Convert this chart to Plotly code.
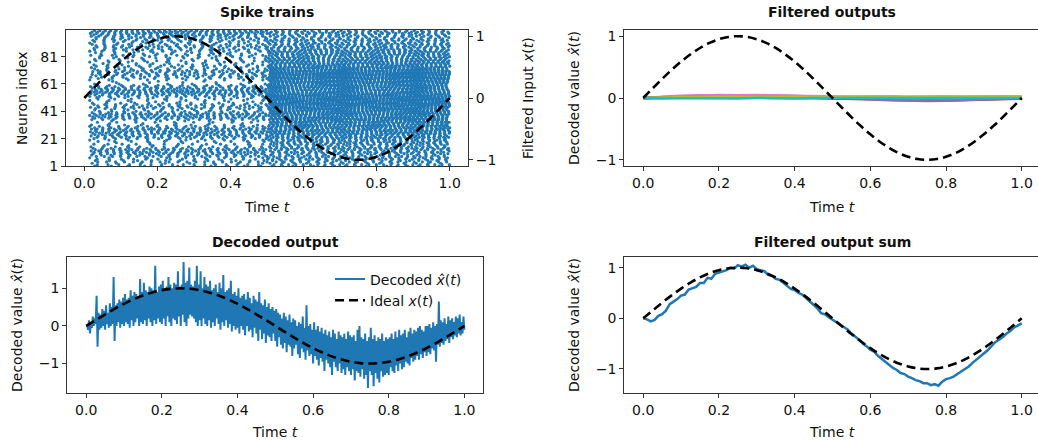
import plotly.graph_objects as go

W, H = 1038, 440
BLUE = "#1f77b4"
TAB10 = ["#1f77b4", "#ff7f0e", "#2ca02c", "#d62728", "#9467bd",
         "#8c564b", "#e377c2", "#7f7f7f", "#bcbd22", "#17becf"]

# ---------------- data ----------------
# ideal input x(t), read at 0.025 s steps
ideal_t = [i * 0.025 for i in range(41)]
ideal_x = [0.0, 0.156, 0.309, 0.454, 0.588, 0.707, 0.809, 0.891, 0.951, 0.988,
           1.0, 0.988, 0.951, 0.891, 0.809, 0.707, 0.588, 0.454, 0.309, 0.156,
           0.0, -0.156, -0.309, -0.454, -0.588, -0.707, -0.809, -0.891, -0.951, -0.988,
           -1.0, -0.988, -0.951, -0.891, -0.809, -0.707, -0.588, -0.454, -0.309, -0.156,
           0.0]

# spike raster: per-neuron firing rate (Hz) in first / second half, and phase digit
rate_first = [22, 34, 15, 41, 26, 30, 19, 45, 38, 52,
              56, 49, 60, 41, 30, 15, 26, 11, 22, 19,
              34, 45, 52, 49, 56, 60, 52, 64, 45, 38,
              22, 11, 19, 15, 34, 52, 60, 56, 64, 45,
              30, 22, 38, 45, 41, 34, 26, 15, 19, 22,
              26, 38, 49, 60, 64, 68, 60, 56, 45, 30,
              15, 11, 8, 19, 26, 34, 41, 45, 38, 49,
              41, 30, 22, 34, 26, 22, 19, 30, 15, 26,
              22, 34, 26, 19, 30, 38, 34, 45, 41, 30,
              26, 38, 34, 45, 41, 49, 52, 60, 64, 68]
rate_second = [35, 50, 30, 45, 40, 55, 45, 60, 40, 50,
               60, 45, 55, 70, 50, 45, 60, 55, 65, 50,
               65, 75, 60, 70, 80, 75, 85, 70, 80, 90,
               85, 75, 90, 80, 95, 90, 85, 80, 95, 90,
               85, 95, 100, 90, 105, 100, 110, 95, 105, 110,
               100, 95, 105, 90, 85, 80, 90, 85, 95, 90,
               85, 100, 95, 90, 105, 100, 95, 110, 105, 100,
               90, 85, 95, 80, 75, 85, 80, 70, 75, 65,
               70, 60, 75, 65, 70, 60, 55, 65, 50, 60,
               55, 45, 60, 50, 40, 50, 45, 55, 60, 50]
phase_digit = [3, 7, 1, 9, 4, 6, 0, 8, 2, 5, 7, 2, 9, 4, 1, 6, 3, 8, 5, 0,
               4, 9, 2, 7, 5, 1, 8, 3, 6, 0, 1, 6, 4, 9, 2, 7, 5, 0, 8, 3,
               8, 3, 6, 1, 9, 4, 2, 7, 0, 5, 5, 0, 7, 2, 8, 3, 9, 4, 1, 6,
               2, 8, 5, 0, 6, 1, 7, 3, 9, 4, 9, 4, 1, 6, 3, 8, 0, 5, 2, 7,
               6, 1, 8, 3, 0, 5, 4, 9, 7, 2, 0, 5, 3, 8, 7, 2, 6, 1, 4, 9]
first_window = (0.015, 0.505)
second_window = (0.505, 1.0)

# filtered outputs of individual neurons (10 shown), read at 0.05 s steps
filt_t = [i * 0.05 for i in range(21)]
filt_series = [
    [0, 0.01, 0.015, 0.02, 0.02, 0.025, 0.02, 0.02, 0.015, 0.01, 0.005, 0.0, -0.005, -0.01, -0.01, -0.015, -0.01, -0.01, -0.005, 0.0, 0.0],
    [0, 0.02, 0.03, 0.025, 0.035, 0.03, 0.035, 0.03, 0.03, 0.02, 0.015, 0.01, 0.015, 0.02, 0.01, 0.015, 0.02, 0.015, 0.02, 0.025, 0.02],
    [0, 0.005, 0.01, 0.015, 0.01, 0.015, 0.01, 0.015, 0.01, 0.005, 0.0, 0.005, 0.0, -0.005, 0.0, 0.005, 0.0, 0.005, 0.01, 0.01, 0.005],
    [0, 0.005, 0.0, 0.01, 0.005, 0.01, 0.005, 0.0, 0.005, 0.0, -0.01, -0.02, -0.025, -0.03, -0.035, -0.03, -0.04, -0.03, -0.025, -0.015, -0.01],
    [0, 0.015, 0.03, 0.04, 0.045, 0.05, 0.045, 0.04, 0.035, 0.025, 0.01, -0.01, -0.02, -0.035, -0.045, -0.05, -0.045, -0.035, -0.02, -0.01, 0.0],
    [0, 0.005, 0.01, 0.01, 0.015, 0.01, 0.015, 0.01, 0.005, 0.005, 0.0, -0.005, -0.01, -0.005, -0.01, -0.015, -0.01, -0.005, -0.005, 0.0, 0.0],
    [0, 0.02, 0.035, 0.04, 0.05, 0.045, 0.05, 0.04, 0.035, 0.03, 0.02, 0.01, 0.005, 0.0, -0.005, 0.0, 0.005, 0.0, 0.005, 0.01, 0.01],
    [0, 0.01, 0.015, 0.02, 0.02, 0.02, 0.015, 0.02, 0.015, 0.01, 0.005, 0.0, -0.01, -0.015, -0.02, -0.02, -0.015, -0.01, -0.01, -0.005, 0.0],
    [0, 0.01, 0.02, 0.02, 0.025, 0.02, 0.025, 0.02, 0.02, 0.015, 0.02, 0.025, 0.03, 0.03, 0.025, 0.03, 0.03, 0.025, 0.03, 0.03, 0.025],
    [0, -0.01, -0.005, -0.01, -0.005, -0.01, 0.0, -0.005, -0.01, 0.0, 0.0, 0.005, 0.0, -0.005, 0.0, 0.005, 0.0, 0.005, 0.0, 0.0, 0.0],
]

# decoded output: lower and upper extremes of the noisy trace, read at 0.005 s steps
env_t = [i * 0.005 for i in range(201)]
decoded_low = [
    0.0, -0.1, -0.2, -0.05, 0.0, 0.05, -0.55, -0.1, -0.05, 0.0, -0.1, 0.05, -0.05, 0.0, 0.05, -0.4, 0.0, 0.1, -0.05, 0.05,
    0.0, 0.1, 0.05, -0.05, 0.15, 0.0, 0.1, 0.2, 0.0, 0.1, 0.05, 0.15, 0.0, 0.2, 0.1, 0.0, 0.15, 0.05, 0.2, 0.1,
    0.05, 0.2, 0.0, 0.25, 0.1, 0.0, 0.2, 0.15, 0.05, 0.25, 0.0, 0.3, 0.1, 0.0, 0.2, 0.3, 0.25, 0.2, 0.1, 0.0,
    0.15, 0.0, 0.2, 0.05, 0.0, 0.15, -0.05, 0.1, 0.0, 0.2, 0.05, -0.1, 0.1, 0.0, 0.15, -0.05, 0.05, -0.15, 0.0, -0.1,
    -0.05, -0.2, 0.0, -0.1, -0.25, 0.0, -0.15, -0.1, -0.3, -0.05, -0.2, -0.4, -0.1, -0.35, -0.2, -0.45, -0.25, -0.3, -0.4, -0.2,
    -0.4, -0.55, -0.3, -0.5, -0.6, -0.45, -0.7, -0.5, -0.55, -0.8, -0.6, -0.5, -0.75, -0.85, -0.6, -0.7, -0.9, -0.65, -0.8, -0.75,
    -1.0, -0.8, -0.9, -1.05, -0.85, -0.95, -1.2, -0.9, -1.0, -1.1, -1.3, -0.95, -1.1, -1.2, -1.0, -1.25, -1.15, -1.3, -1.1, -1.2,
    -1.3, -1.15, -1.45, -1.2, -1.25, -1.35, -1.15, -1.4, -1.3, -1.65, -1.2, -1.3, -1.6, -1.25, -1.4, -1.5, -1.2, -1.35, -1.3, -1.25,
    -1.3, -1.1, -1.2, -1.25, -1.05, -1.2, -1.0, -1.15, -1.1, -0.95, -1.0, -1.05, -0.85, -0.95, -0.9, -0.8, -0.9, -0.75, -0.85, -0.7,
    -0.8, -0.7, -0.75, -0.6, -0.65, -0.95, -0.5, -0.55, -0.45, -0.5, -0.4, -0.35, -0.45, -0.3, -0.35, -0.25, -0.3, -0.2, -0.25, -0.2,
    -0.1,
]
decoded_high = [
    0.0, 0.15, 0.1, 0.25, 0.2, 0.8, 0.35, 0.3, 0.45, 0.4, 0.55, 0.35, 0.6, 0.5, 1.3, 0.55, 0.6, 0.7, 0.65, 0.75,
    0.85, 0.7, 0.75, 0.95, 0.8, 0.9, 0.85, 0.75, 1.25, 0.9, 1.15, 0.95, 0.9, 1.05, 1.0, 0.95, 1.6, 0.9, 1.05, 1.1,
    1.2, 1.0, 1.05, 1.3, 1.1, 1.0, 1.15, 1.1, 1.45, 1.05, 1.1, 1.7, 1.15, 1.2, 1.55, 1.1, 1.05, 1.2, 1.6, 1.1,
    1.45, 1.0, 1.3, 1.1, 1.05, 1.2, 0.95, 1.0, 1.1, 0.9, 1.15, 1.0, 1.35, 0.9, 0.95, 1.0, 1.2, 0.85, 0.9, 0.8,
    1.0, 0.75, 0.8, 0.85, 0.7, 0.9, 0.75, 0.6, 0.8, 0.7, 0.65, 0.9, 0.6, 0.55, 0.7, 0.5, 0.6, 0.45, 0.5, 0.4,
    0.45, 0.35, 0.3, 0.2, 0.35, 0.25, 0.15, 0.3, 0.1, 0.2, 0.15, 0.0, 0.1, 0.05, 0.25, -0.05, 0.55, 0.0, 0.05, -0.1,
    0.1, -0.1, 0.0, -0.15, -0.05, -0.2, -0.1, -0.25, -0.15, -0.3, -0.1, -0.2, -0.35, -0.15, -0.25, -0.3, -0.2, -0.35, -0.15, -0.25,
    -0.3, -0.25, -0.4, -0.1, 0.0, -0.3, -0.35, -0.2, -0.4, -0.3, -0.05, -0.35, -0.25, -0.4, -0.3, -0.35, -0.2, -0.4, -0.3, -0.35,
    -0.3, -0.2, -0.35, -0.15, -0.3, -0.1, -0.25, -0.2, -0.1, -0.3, -0.15, -0.05, -0.2, -0.1, -0.15, -0.05, 0.0, -0.1, -0.15, 0.0,
    0.0, 0.05, -0.05, 0.1, 0.0, 0.05, 0.65, 0.15, 0.1, 0.2, 0.05, 0.25, 0.15, 0.2, 0.1, 0.25, 0.2, 0.3, 0.1, 0.25,
    -0.1,
]

# filtered output sum, read at 0.01 s steps
sum_t = [i * 0.01 for i in range(101)]
filtered_sum = [
    0.0, -0.02, -0.06, -0.03, 0.05, 0.08, 0.15, 0.28, 0.33, 0.38,
    0.45, 0.47, 0.57, 0.6, 0.62, 0.7, 0.7, 0.8, 0.78, 0.88,
    0.9, 0.93, 0.95, 1.0, 0.98, 1.05, 1.02, 1.06, 1.0, 1.04,
    0.97, 0.95, 0.93, 0.86, 0.84, 0.78, 0.76, 0.7, 0.64, 0.58,
    0.56, 0.5, 0.47, 0.4, 0.33, 0.28, 0.2, 0.1, 0.08, 0.02,
    -0.03, -0.08, -0.12, -0.18, -0.22, -0.3, -0.36, -0.42, -0.5, -0.55,
    -0.62, -0.66, -0.74, -0.8, -0.86, -0.92, -0.98, -1.02, -1.08, -1.1,
    -1.15, -1.18, -1.22, -1.24, -1.28, -1.28, -1.32, -1.3, -1.33, -1.25,
    -1.2, -1.18, -1.15, -1.1, -1.05, -1.0, -0.95, -0.88, -0.82, -0.76,
    -0.7, -0.63, -0.55, -0.47, -0.42, -0.37, -0.3, -0.25, -0.18, -0.14,
    -0.1,
]

# ---------------- spike times from the read rates ----------------
spk_t, spk_n = [], []
for i in range(len(rate_first)):
    for (t0, t1), r in ((first_window, rate_first[i]), (second_window, rate_second[i])):
        if r <= 0:
            continue
        t = t0 + (phase_digit[i] / 10.0) / r
        while t <= t1:
            spk_t.append(t)
            spk_n.append(i + 1)
            t += 1.0 / r

# decoded trace: alternate between the read low / high extremes
dec_t, dec_v = [], []
for k in range(len(env_t)):
    dec_t.append(env_t[k])
    dec_v.append(decoded_low[k])
    if k < len(env_t) - 1:
        dec_t.append(env_t[k] + 0.0025)
        dec_v.append(decoded_high[k])

# ---------------- layout helpers ----------------
def px_x(p):
    return p / W

def px_y(p):
    return 1 - p / H

FONT = "DejaVu Sans, Verdana, sans-serif"
FS = 14
DASH = dict(color="black", width=2.6, dash="9px,5px")

fig = go.Figure()

# Panel 1: spike trains
fig.add_trace(go.Scatter(x=spk_t, y=spk_n, mode="markers", xaxis="x", yaxis="y",
                         marker=dict(symbol="circle", size=3.2, color=BLUE, line=dict(width=0)),
                         showlegend=False, hoverinfo="skip"))
fig.add_trace(go.Scatter(x=ideal_t, y=ideal_x, mode="lines", xaxis="x", yaxis="y2",
                         line=dict(shape="spline", **DASH), showlegend=False))

# Panel 2: filtered outputs
for k, s in enumerate(filt_series):
    fig.add_trace(go.Scatter(x=filt_t, y=s, mode="lines", xaxis="x2", yaxis="y3",
                             line=dict(color=TAB10[k % 10], width=2.5), showlegend=False))
fig.add_trace(go.Scatter(x=ideal_t, y=ideal_x, mode="lines", xaxis="x2", yaxis="y3",
                         line=dict(shape="spline", **DASH), showlegend=False))

# Panel 3: decoded output
fig.add_trace(go.Scatter(x=dec_t, y=dec_v, mode="lines", xaxis="x3", yaxis="y4",
                         line=dict(color=BLUE, width=2),
                         name="Decoded <i>x̂</i>(<i>t</i>)", showlegend=True))
fig.add_trace(go.Scatter(x=ideal_t, y=ideal_x, mode="lines", xaxis="x3", yaxis="y4",
                         line=dict(shape="spline", **DASH),
                         name="Ideal <i>x</i>(<i>t</i>)", showlegend=True))

# Panel 4: filtered output sum
fig.add_trace(go.Scatter(x=sum_t, y=filtered_sum, mode="lines", xaxis="x4", yaxis="y5",
                         line=dict(color=BLUE, width=2.5), showlegend=False))
fig.add_trace(go.Scatter(x=ideal_t, y=ideal_x, mode="lines", xaxis="x4", yaxis="y5",
                         line=dict(shape="spline", **DASH), showlegend=False))

TICKFONT = dict(size=FS, color="#111", family=FONT)

def xax(dom, rng, anchor):
    return dict(domain=dom, range=rng, anchor=anchor, showgrid=False, zeroline=False,
                showline=True, linecolor="#333", linewidth=1, mirror=True,
                ticks="outside", ticklen=4, tickcolor="#333",
                tickvals=[0, 0.2, 0.4, 0.6, 0.8, 1.0],
                ticktext=["0.0", "0.2", "0.4", "0.6", "0.8", "1.0"],
                tickfont=TICKFONT, automargin=False)

def yax(dom, rng, anchor, vals, texts, mirror=True):
    return dict(domain=dom, range=rng, anchor=anchor, showgrid=False, zeroline=False,
                showline=True, linecolor="#333", linewidth=1, mirror=mirror,
                ticks="outside", ticklen=4, tickcolor="#333",
                tickvals=vals, ticktext=texts, tickfont=TICKFONT, automargin=False)

top_dom = [px_y(166), px_y(30)]
bl_dom = [px_y(393.3), px_y(256.7)]
br_dom = [px_y(393.3), px_y(257.3)]
right_x = [px_x(624.3), 1.0]
right_rng = [-0.05, 1.043]
pm = [-1, 0, 1]
pm_t = ["−1", "0", "1"]

layout = dict(
    width=W, height=H, margin=dict(l=0, r=0, t=0, b=0, autoexpand=False),
    paper_bgcolor="white", plot_bgcolor="white",
    font=dict(family=FONT, size=FS, color="#111"),
    xaxis=xax([px_x(66), px_x(468)], [-0.05, 1.05], "y"),
    yaxis=yax(top_dom, [1, 100.5], "x", [1, 21, 41, 61, 81], ["1", "21", "41", "61", "81"]),
    yaxis2=dict(overlaying="y", side="right", anchor="x", range=[-1.1, 1.1],
                showgrid=False, zeroline=False, showline=False,
                ticks="outside", ticklen=4, tickcolor="#333",
                tickvals=pm, ticktext=pm_t, tickfont=TICKFONT, automargin=False),
    xaxis2=xax(right_x, right_rng, "y3"),
    yaxis3=yax(top_dom, [-1.1, 1.1], "x2", pm, pm_t, mirror=False),
    xaxis3=xax([px_x(67.3), px_x(483.3)], [-0.05, 1.05], "y4"),
    yaxis4=yax(bl_dom, [-1.79, 1.84], "x3", pm, pm_t),
    xaxis4=xax(right_x, right_rng, "y5"),
    yaxis5=yax(br_dom, [-1.48, 1.205], "x4", pm, pm_t, mirror=False),
    legend=dict(x=px_x(330), y=px_y(290), xanchor="left", yanchor="middle",
                bgcolor="rgba(0,0,0,0)", borderwidth=0,
                font=dict(size=FS, color="#111", family=FONT),
                tracegroupgap=0, itemwidth=30),
    showlegend=True,
)
fig.update_layout(**layout)

ann = []
def text(x, y, s, angle=0):
    ann.append(dict(x=px_x(x), y=px_y(y), xref="paper", yref="paper", text=s,
                    showarrow=False, textangle=angle, xanchor="center", yanchor="middle",
                    font=dict(size=FS, color="#111", family=FONT)))

text(267, 12, "<b>Spike trains</b>")
text(832, 12, "<b>Filtered outputs</b>")
text(275, 242, "<b>Decoded output</b>")
text(832, 242, "<b>Filtered output sum</b>")
for cx in (267, 832):
    text(cx, 207, "Time <i>t</i>")
for cx in (275, 832):
    text(cx, 432, "Time <i>t</i>")
text(22, 98, "Neuron index", angle=-90)
text(528, 98, "Filtered Input <i>x</i>(<i>t</i>)", angle=-90)
text(574, 98, "Decoded value <i>x̂</i>(<i>t</i>)", angle=-90)
text(17, 325, "Decoded value <i>x̂</i>(<i>t</i>)", angle=-90)
text(574, 325, "Decoded value <i>x̂</i>(<i>t</i>)", angle=-90)
fig.update_layout(annotations=ann)

fig.write_html("out.html", config={"displayModeBar": False, "responsive": False},
               post_script="document.body.style.margin='0';document.body.style.overflow='hidden';")
